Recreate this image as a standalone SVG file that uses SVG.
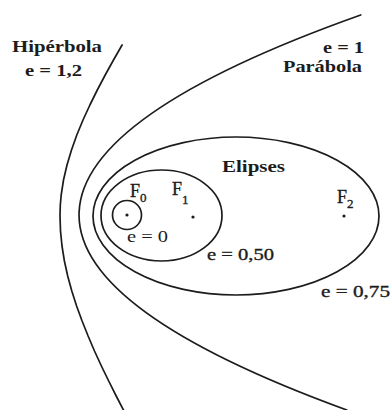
<svg xmlns="http://www.w3.org/2000/svg" width="392" height="410" viewBox="0 0 392 410">
<style>
.c{fill:none;stroke:#1c1c1c;stroke-width:1.7;stroke-linejoin:round;stroke-linecap:round}
.t{font-family:"Liberation Serif","Times New Roman",serif;fill:#1c1c1c}
.b{font-weight:bold}
.m{stroke:#1c1c1c;stroke-width:0.35}
.dot{fill:#1c1c1c}
</style>
<rect width="392" height="410" fill="#ffffff"/>
<g id="curves">
<polyline id="hiperbola" class="c" points="122.1,45 113.5,60 105.2,75 97.3,90 89.9,105 83,120 76.8,135 71.5,150 67,165 63.5,180 61.2,195 60.3,205 60,216 60.5,231 62,246 64.4,261 67.7,276 71.8,291 76.6,306 82.1,321 88.1,336 94.5,351 101.4,366 108.7,381 116.2,396 124,411"/>
<path id="parabola" class="c" d="M360.7,15 Q-195.6,212.5 346.8,410"/>
<ellipse id="elipse075" class="c" cx="236" cy="216" rx="143" ry="79"/>
<ellipse id="elipse050" class="c" cx="161.5" cy="215.5" rx="60.5" ry="45.5"/>
<circle id="circulo" class="c" cx="127" cy="215" r="14.5"/>
</g>
<g id="focos">
<circle class="dot" cx="127" cy="215" r="1.6"/>
<circle class="dot" cx="193" cy="217" r="1.6"/>
<circle class="dot" cx="344" cy="216" r="1.6"/>
</g>
<g id="labels">
<text class="t b" x="12" y="52" font-size="17" textLength="90" lengthAdjust="spacingAndGlyphs">Hipérbola</text>
<text class="t b" x="25" y="76" font-size="17" textLength="57" lengthAdjust="spacingAndGlyphs">e = 1,2</text>
<text class="t b" x="323" y="53" font-size="17" textLength="41" lengthAdjust="spacingAndGlyphs">e = 1</text>
<text class="t b" x="283" y="72" font-size="17" textLength="79" lengthAdjust="spacingAndGlyphs">Parábola</text>
<text class="t b" x="222" y="172" font-size="16" textLength="63" lengthAdjust="spacingAndGlyphs">Elipses</text>
<text class="t m" x="130" y="197" font-size="18">F<tspan font-size="13" dy="5">0</tspan></text>
<text class="t m" x="172" y="195" font-size="18">F<tspan font-size="13" dy="9">1</tspan></text>
<text class="t m" x="337" y="203" font-size="18">F<tspan font-size="13" dy="5">2</tspan></text>
<text class="t" x="127" y="242" font-size="16" textLength="41" lengthAdjust="spacingAndGlyphs">e = 0</text>
<text class="t m" x="207" y="260" font-size="17" textLength="67" lengthAdjust="spacingAndGlyphs">e = 0,50</text>
<text class="t m" x="321" y="297" font-size="17" textLength="69" lengthAdjust="spacingAndGlyphs">e = 0,75</text>
</g>
</svg>
